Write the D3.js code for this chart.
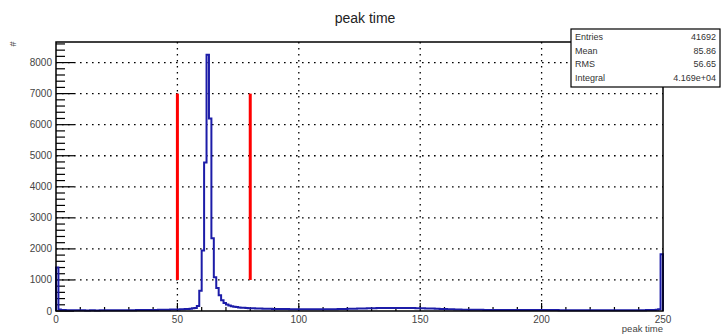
<!DOCTYPE html>
<html>
<head>
<meta charset="utf-8">
<script src="https://cdn.jsdelivr.net/npm/d3@7"></script>
<style>
  body { margin: 0; background: #fff; }
  text { font-family: "Liberation Sans", Arial, sans-serif; }
</style>
</head>
<body>
<div id="grafPeak"></div>
<script>
// cuentas por bin (250 bins de ancho 1, de 0 a 250)
const binCounts = [
  1400, 45, 35, 30, 28, 25, 25, 22, 22, 22,
  22, 22, 20, 20, 22, 22, 20, 20, 22, 22,
  22, 24, 24, 24, 25, 25, 25, 26, 26, 26,
  28, 28, 28, 30, 30, 30, 32, 32, 34, 34,
  35, 36, 38, 40, 40, 42, 44, 46, 48, 50,
  52, 55, 58, 62, 68, 75, 85, 100, 160, 650,
  1950, 4780, 8250, 6200, 2340, 1090, 740, 510, 350, 260,
  210, 175, 150, 135, 125, 115, 108, 102, 96, 92,
  88, 85, 82, 80, 78, 76, 74, 72, 70, 68,
  66, 65, 64, 63, 62, 61, 60, 60, 59, 58,
  58, 57, 57, 56, 56, 56, 55, 55, 55, 55,
  56, 56, 57, 58, 59, 60, 62, 64, 66, 68,
  70, 72, 74, 76, 78, 80, 82, 84, 86, 88,
  90, 92, 94, 95, 96, 97, 98, 99, 100, 100,
  100, 100, 99, 98, 97, 96, 95, 94, 92, 90,
  88, 86, 84, 82, 80, 77, 74, 71, 68, 65,
  62, 59, 56, 53, 50, 48, 46, 44, 42, 41,
  40, 39, 38, 38, 37, 37, 36, 36, 35, 35,
  35, 34, 34, 34, 33, 33, 33, 32, 32, 32,
  32, 31, 31, 31, 31, 30, 30, 30, 30, 30,
  30, 30, 29, 29, 29, 29, 29, 28, 28, 28,
  28, 28, 28, 28, 27, 27, 27, 27, 27, 27,
  27, 27, 26, 26, 26, 26, 26, 26, 26, 26,
  26, 26, 26, 26, 26, 26, 26, 26, 27, 27,
  27, 28, 28, 29, 30, 32, 35, 40, 60, 1830
];
const binStart = 0;
const binWidth = 1;

// lineas rojas de la ventana de corte
const cutPositions = [50, 80];
const cutRange = [1000, 7000];

// ticks de los ejes
const xMajorTicks = [0, 50, 100, 150, 200, 250];
const xMinorStep = 10;
const yMajorTicks = [0, 1000, 2000, 3000, 4000, 5000, 6000, 7000, 8000];
const yMinorStep = 200;

// caja de estadisticas
const statNames = ["Entries", "Mean", "RMS", "Integral"];
const statValues = ["41692", "85.86", "56.65", "4.169e+04"];

const chartTitle = "peak time";
const xTitle = "peak time";
const yTitle = "#";

// margenes del frame
const W = 724, H = 334;
const margins = { top: 42, right: 61, bottom: 23, left: 56 };
const innerW = W - margins.left - margins.right;
const innerH = H - margins.top - margins.bottom;

const svg = d3.select("#grafPeak")
  .append("svg")
  .attr("width", W)
  .attr("height", H);

const g = svg.append("g")
  .attr("transform", `translate(${margins.left}, ${margins.top})`);

// escaladores
const x = d3.scaleLinear().domain([0, 250]).range([0, innerW]);
const y = d3.scaleLinear().domain([0, d3.max(binCounts) * 1.05]).range([innerH, 0]);

// grid punteado
g.append("g").selectAll("line")
  .data(xMajorTicks.slice(1, -1))
  .join("line")
  .attr("x1", (d) => x(d)).attr("x2", (d) => x(d))
  .attr("y1", 0).attr("y2", innerH)
  .attr("stroke", "#000").attr("stroke-width", 1.3)
  .attr("stroke-dasharray", "1.6,4.4");

g.append("g").selectAll("line")
  .data(yMajorTicks.slice(1))
  .join("line")
  .attr("x1", 0).attr("x2", innerW)
  .attr("y1", (d) => y(d)).attr("y2", (d) => y(d))
  .attr("stroke", "#000").attr("stroke-width", 1.3)
  .attr("stroke-dasharray", "1.6,4.4");

// ticks menores y mayores (hacia dentro, estilo ROOT)
const xMinor = d3.range(0, 250 + 0.001, xMinorStep);
g.append("g").selectAll("line")
  .data(xMinor)
  .join("line")
  .attr("x1", (d) => x(d)).attr("x2", (d) => x(d))
  .attr("y1", innerH)
  .attr("y2", (d) => innerH - (xMajorTicks.includes(d) ? 8 : 4))
  .attr("stroke", "#000").attr("stroke-width", 1.2);

const yMinor = d3.range(0, y.domain()[1], yMinorStep);
g.append("g").selectAll("line")
  .data(yMinor)
  .join("line")
  .attr("x1", 0)
  .attr("x2", (d) => (yMajorTicks.includes(d) ? 18 : 9))
  .attr("y1", (d) => y(d)).attr("y2", (d) => y(d))
  .attr("stroke", "#000").attr("stroke-width", 1.2);

// etiquetas de los ejes
g.append("g").selectAll("text")
  .data(yMajorTicks)
  .join("text")
  .attr("x", -4)
  .attr("y", (d) => y(d) + 3.5)
  .attr("text-anchor", "end")
  .attr("font-size", 10)
  .attr("fill", "#444")
  .text((d) => d);

g.append("g").selectAll("text")
  .data(xMajorTicks)
  .join("text")
  .attr("x", (d) => x(d))
  .attr("y", innerH + 12)
  .attr("text-anchor", "middle")
  .attr("font-size", 10)
  .attr("fill", "#444")
  .text((d) => d);

// histograma como linea escalonada
const pts = [[binStart, 0]];
binCounts.forEach((v, i) => {
  pts.push([binStart + i * binWidth, v]);
  pts.push([binStart + (i + 1) * binWidth, v]);
});
pts.push([binStart + binCounts.length * binWidth, 0]);

g.append("path")
  .datum(pts)
  .attr("fill", "none")
  .attr("stroke", "#1c1ca8")
  .attr("stroke-width", 2)
  .attr("stroke-linejoin", "miter")
  .attr("d", d3.line().x((d) => x(d[0])).y((d) => y(d[1])));

// lineas de corte
g.append("g").selectAll("line")
  .data(cutPositions)
  .join("line")
  .attr("x1", (d) => x(d)).attr("x2", (d) => x(d))
  .attr("y1", y(cutRange[0])).attr("y2", y(cutRange[1]))
  .attr("stroke", "#ff0000").attr("stroke-width", 3);

// frame
g.append("rect")
  .attr("width", innerW).attr("height", innerH)
  .attr("fill", "none")
  .attr("stroke", "#000").attr("stroke-width", 1.5);

// titulos
svg.append("text")
  .attr("x", 365).attr("y", 23)
  .attr("text-anchor", "middle")
  .attr("font-size", 14)
  .attr("fill", "#222")
  .text(chartTitle);

svg.append("text")
  .attr("x", margins.left + innerW).attr("y", 332)
  .attr("text-anchor", "end")
  .attr("font-size", 9.5)
  .attr("fill", "#444")
  .text(xTitle);

svg.append("text")
  .attr("transform", "translate(16, 44) rotate(-90)")
  .attr("text-anchor", "middle")
  .attr("font-size", 9)
  .attr("fill", "#444")
  .text(yTitle);

// caja de estadisticas
const box = svg.append("g").attr("transform", "translate(571, 29)");
box.append("rect")
  .attr("width", 149).attr("height", 58)
  .attr("fill", "#fff")
  .attr("stroke", "#000").attr("stroke-width", 1.2);

box.selectAll("text.name")
  .data(statNames)
  .join("text")
  .attr("class", "name")
  .attr("x", 4)
  .attr("y", (d, i) => 11 + i * 13.5)
  .attr("font-size", 9)
  .attr("fill", "#333")
  .text((d) => d);

box.selectAll("text.val")
  .data(statValues)
  .join("text")
  .attr("class", "val")
  .attr("x", 145)
  .attr("y", (d, i) => 11 + i * 13.5)
  .attr("text-anchor", "end")
  .attr("font-size", 9)
  .attr("fill", "#333")
  .text((d) => d);
</script>
</body>
</html>
